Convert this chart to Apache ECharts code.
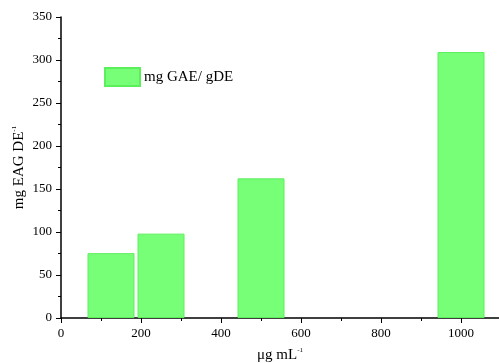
<!DOCTYPE html>
<html>
<head>
<meta charset="utf-8">
<script src="https://cdn.jsdelivr.net/npm/echarts@6/dist/echarts.min.js"></script>
<style>html,body{margin:0;padding:0;background:#fff}#c{width:499px;height:363px}</style>
</head>
<body>
<div id="c"></div>
<script>
var concentrations = [125, 250, 500, 1000];
var values = [75.4, 98.1, 162.4, 309.3];
var seriesName = 'mg GAE/ gDE';
var xTicks = [0, 200, 400, 600, 800, 1000];
var yTicks = [0, 50, 100, 150, 200, 250, 300, 350];

var FONT = '"Liberation Serif", "Times New Roman", serif';
var chart = echarts.init(document.getElementById('c'), null, {renderer: 'canvas'});
var data = concentrations.map(function (c, i) { return [c, values[i]]; });
chart.setOption({
  animation: false,
  backgroundColor: '#fff',
  grid: {left: 61, right: 0, top: 17, bottom: 45, containLabel: false, outerBoundsMode: 'none'},
  legend: {
    data: [{name: seriesName, icon: 'rect'}],
    left: 104, top: 67, padding: 0,
    itemWidth: 35, itemHeight: 18, itemGap: 4,
    textStyle: {fontFamily: FONT, fontSize: 15, color: '#000', padding: [0, 0, 0, -1]}
  },
  xAxis: {
    type: 'value', min: xTicks[0], max: 1095, interval: 200,
    axisLine: {show: true, onZero: false, lineStyle: {color: '#000', width: 1.5}},
    axisTick: {show: true, length: 5, lineStyle: {color: '#000', width: 1}},
    minorTick: {show: true, splitNumber: 2, length: 3, lineStyle: {color: '#000', width: 1}},
    splitLine: {show: false},
    axisLabel: {fontFamily: FONT, fontSize: 13, color: '#000', margin: 9, showMaxLabel: false,
      formatter: function (v) { return String(v); }},
    name: 'μg mL{s|-1}', nameLocation: 'middle', nameGap: 29, nameMoveOverlap: false,
    nameTextStyle: {fontFamily: FONT, fontSize: 15, color: '#000',
      rich: {s: {fontFamily: FONT, fontSize: 7, color: '#000', verticalAlign: 'top', padding: [0,0,9,0]}}}
  },
  yAxis: {
    type: 'value', min: yTicks[0], max: yTicks[yTicks.length - 1], interval: 50,
    axisLine: {show: true, lineStyle: {color: '#000', width: 1.5}},
    axisTick: {show: true, length: 5, lineStyle: {color: '#000', width: 1}},
    minorTick: {show: true, splitNumber: 2, length: 3, lineStyle: {color: '#000', width: 1}},
    splitLine: {show: false},
    axisLabel: {fontFamily: FONT, fontSize: 13, color: '#000', margin: 9},
    name: 'mg EAG DE{s|-1}', nameLocation: 'middle', nameGap: 34, nameMoveOverlap: false,
    nameTextStyle: {fontFamily: FONT, fontSize: 15, color: '#000',
      rich: {s: {fontFamily: FONT, fontSize: 7, color: '#000', verticalAlign: 'top', padding: [0,0,9,0]}}}
  },
  series: [{
    name: seriesName,
    type: 'bar',
    data: data,
    barWidth: 47,
    itemStyle: {color: '#78ff78', borderColor: '#5cef5c', borderWidth: 1}
  }]
});
</script>
</body>
</html>
